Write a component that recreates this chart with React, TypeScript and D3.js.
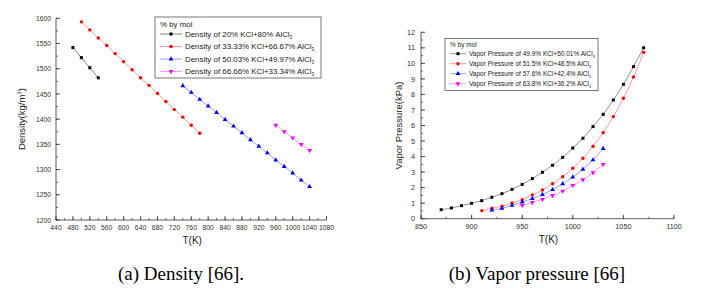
import * as d3 from 'd3';

// ---- (a) Density data ----
const dTemp20 = [480, 500, 520, 540];
const dens20 = [1542, 1522, 1502, 1482];
const dTemp33 = [500, 520, 540, 560, 580, 600, 620, 640, 660, 680, 700, 720, 740, 760, 780];
const dens33 = [1593, 1577, 1561, 1546, 1530, 1514, 1498, 1482, 1467, 1451, 1435, 1419, 1404, 1388, 1372];
const dTemp50 = [740, 760, 780, 800, 820, 840, 860, 880, 900, 920, 940, 960, 980, 1000, 1020, 1040];
const dens50 = [1466, 1453, 1439, 1426, 1413, 1399, 1386, 1373, 1359, 1346, 1333, 1319, 1306, 1293, 1279, 1266];
const dTemp66 = [960, 980, 1000, 1020, 1040];
const dens66 = [1388, 1375, 1363, 1350, 1338];
const densTicksX = [440, 480, 520, 560, 600, 640, 680, 720, 760, 800, 840, 880, 920, 960, 1000, 1040, 1080];
const densTicksY = [1200, 1250, 1300, 1350, 1400, 1450, 1500, 1550, 1600];

// ---- (b) Vapor pressure data ----
const vTemp499 = [870, 880, 890, 900, 910, 920, 930, 940, 950, 960, 970, 980, 990, 1000, 1010, 1020, 1030, 1040, 1050, 1060, 1070];
const vp499 = [0.58, 0.69, 0.84, 0.99, 1.16, 1.38, 1.61, 1.89, 2.21, 2.58, 2.99, 3.44, 3.95, 4.55, 5.18, 5.93, 6.72, 7.64, 8.65, 9.79, 11.0];
const vTemp515 = [910, 920, 930, 940, 950, 960, 970, 980, 990, 1000, 1010, 1020, 1030, 1040, 1050, 1060, 1070];
const vp515 = [0.52, 0.67, 0.8, 1.01, 1.22, 1.53, 1.85, 2.25, 2.7, 3.25, 3.89, 4.66, 5.54, 6.57, 7.75, 9.12, 10.71];
const vTemp576 = [920, 930, 940, 950, 960, 970, 980, 990, 1000, 1010, 1020, 1030];
const vp576 = [0.56, 0.67, 0.86, 1.07, 1.29, 1.55, 1.87, 2.25, 2.68, 3.18, 3.78, 4.51];
const vTemp638 = [950, 960, 970, 980, 990, 1000, 1010, 1020, 1030];
const vp638 = [0.86, 1.05, 1.25, 1.5, 1.78, 2.15, 2.51, 2.96, 3.5];
const vpTicksX = [850, 900, 950, 1000, 1050, 1100];
const vpTicksY = [0, 1, 2, 3, 4, 5, 6, 7, 8, 9, 10, 11, 12];

const FONT = '"Liberation Sans", Arial, sans-serif';
const SERIF = '"Liberation Serif", "Times New Roman", serif';
const AXIS = '#333';

type Series = {
  name: string;
  temps: number[];
  vals: number[];
  line: string;
  mark: string;
  shape: string;
};

const densitySeries: Series[] = [
  { name: 'Density of 20% KCl+80% AlCl', temps: dTemp20, vals: dens20, line: '#666', mark: '#000', shape: 'square' },
  { name: 'Density of 33.33% KCl+66.67% AlCl', temps: dTemp33, vals: dens33, line: '#ff8080', mark: '#ff0000', shape: 'circle' },
  { name: 'Density of 50.03% KCl+49.97% AlCl', temps: dTemp50, vals: dens50, line: '#8080ff', mark: '#0000ff', shape: 'up' },
  { name: 'Density of 66.66% KCl+33.34% AlCl', temps: dTemp66, vals: dens66, line: '#ff80ff', mark: '#ff00ff', shape: 'down' },
];

const vpSeries: Series[] = [
  { name: 'Vapor Pressure of 49.9% KCl+50.01% AlCl', temps: vTemp499, vals: vp499, line: '#777', mark: '#000', shape: 'square' },
  { name: 'Vapor Pressure of 51.5% KCl+48.5% AlCl', temps: vTemp515, vals: vp515, line: '#ff8080', mark: '#ff0000', shape: 'circle' },
  { name: 'Vapor Pressure of 57.6% KCl+42.4% AlCl', temps: vTemp576, vals: vp576, line: '#8080ff', mark: '#0000ff', shape: 'up' },
  { name: 'Vapor Pressure of 63.8% KCl+36.2% AlCl', temps: vTemp638, vals: vp638, line: '#ff80ff', mark: '#ff00ff', shape: 'down' },
];

function markerPath(shape: string) {
  if (shape === 'square') return d3.symbol(d3.symbolSquare, 9)() as string;
  if (shape === 'circle') return d3.symbol(d3.symbolCircle, 9)() as string;
  return d3.symbol(d3.symbolTriangle, 10)() as string;
}

function Marker({ x, y, s }: { x: number; y: number; s: Series }) {
  const rot = s.shape === 'down' ? ' rotate(180)' : '';
  return <path d={markerPath(s.shape)} transform={`translate(${x},${y})${rot}`} fill={s.mark} />;
}

type PanelProps = {
  series: Series[];
  x: d3.ScaleLinear<number, number>;
  y: d3.ScaleLinear<number, number>;
  ticksX: number[];
  ticksY: number[];
  minorX: number;
  minorY: number;
  tickFs: number;
  yLabel: React.ReactNode;
  smooth: boolean;
  legend: { x0: number; y0: number; w: number; h: number; fs: number; lx: number; lw: number; rows: number[]; titleY: number };
  labelGap: number;
  yLabelX: number;
};

function Panel(p: PanelProps) {
  const { x, y } = p;
  const [x0, x1] = x.range();
  const [yb, yt] = y.range();
  const minorXs = d3.range(x.domain()[0], x.domain()[1] + 0.001, p.minorX);
  const minorYs = d3.range(y.domain()[0], y.domain()[1] + 0.001, p.minorY);
  return (
    <g>
      {/* series */}
      {p.series.map((s) => {
        const gen = d3
          .line<number>()
          .x((_, i) => x(s.temps[i]))
          .y((v) => y(v))
          .curve(p.smooth ? d3.curveCatmullRom : d3.curveLinear);
        return (
          <g key={s.name}>
            <path d={gen(s.vals) as string} fill="none" stroke={s.line} strokeWidth={0.8} />
            {s.vals.map((v, i) => (
              <Marker key={i} x={x(s.temps[i])} y={y(v)} s={s} />
            ))}
          </g>
        );
      })}
      {/* axes */}
      <line x1={x0} x2={x1} y1={yb} y2={yb} stroke={AXIS} strokeWidth={0.8} />
      <line x1={x0} x2={x0} y1={yb} y2={yt} stroke={AXIS} strokeWidth={0.8} />
      {minorXs.map((t) => (
        <line key={'mx' + t} x1={x(t)} x2={x(t)} y1={yb} y2={yb - 2} stroke={AXIS} strokeWidth={0.7} />
      ))}
      {p.ticksX.map((t) => (
        <g key={'x' + t}>
          <line x1={x(t)} x2={x(t)} y1={yb} y2={yb - 4} stroke={AXIS} strokeWidth={0.8} />
          <text x={x(t)} y={yb + 10} textAnchor="middle" fontSize={p.tickFs} fill={AXIS} fontFamily={FONT}>
            {t}
          </text>
        </g>
      ))}
      {minorYs.map((t) => (
        <line key={'my' + t} x1={x0} x2={x0 + 2} y1={y(t)} y2={y(t)} stroke={AXIS} strokeWidth={0.7} />
      ))}
      {p.ticksY.map((t) => (
        <g key={'y' + t}>
          <line x1={x0} x2={x0 + 4} y1={y(t)} y2={y(t)} stroke={AXIS} strokeWidth={0.8} />
          <text x={x0 - p.labelGap} y={y(t) + 2.6} textAnchor="end" fontSize={p.tickFs} fill={AXIS} fontFamily={FONT}>
            {t}
          </text>
        </g>
      ))}
      <text x={(x0 + x1) / 2 + 1} y={yb + 24} textAnchor="middle" fontSize={10} fill="#222" fontFamily={FONT}>
        T(K)
      </text>
      <text
        transform={`translate(${p.yLabelX},${(yb + yt) / 2}) rotate(-90)`}
        textAnchor="middle"
        fontSize={9.5}
        fill="#222"
        fontFamily={FONT}
      >
        {p.yLabel}
      </text>
      {/* legend */}
      <rect x={p.legend.x0} y={p.legend.y0} width={p.legend.w} height={p.legend.h} fill="#fff" stroke="#555" strokeWidth={0.8} />
      <text x={p.legend.x0 + 5} y={p.legend.titleY} fontSize={p.legend.fs} fill="#222" fontFamily={FONT}>
        % by mol
      </text>
      {p.series.map((s, i) => {
        const ry = p.legend.rows[i];
        const lx = p.legend.lx;
        return (
          <g key={'lg' + i}>
            <line x1={lx} x2={lx + p.legend.lw} y1={ry} y2={ry} stroke={s.line} strokeWidth={0.8} />
            <Marker x={lx + p.legend.lw / 2} y={ry} s={s} />
            <text x={lx + p.legend.lw + 3} y={ry + p.legend.fs * 0.36} fontSize={p.legend.fs} fill="#222" fontFamily={FONT}>
              {s.name}
              <tspan fontSize={p.legend.fs * 0.6} dy={2}>
                3
              </tspan>
            </text>
          </g>
        );
      })}
    </g>
  );
}

export default function App() {
  const xD = d3.scaleLinear().domain([440, 1080]).range([56, 326.5]);
  const yD = d3.scaleLinear().domain([1200, 1600]).range([220, 18.3]);
  const xV = d3.scaleLinear().domain([850, 1100]).range([421, 674]);
  const yV = d3.scaleLinear().domain([0, 12]).range([218.7, 32.3]);

  return (
    <svg width={720} height={302} style={{ position: 'absolute', left: 0, top: 0, background: '#fff' }}>
      <Panel
        series={densitySeries}
        x={xD}
        y={yD}
        ticksX={densTicksX}
        ticksY={densTicksY}
        minorX={20}
        minorY={25}
        tickFs={6.8}
        yLabel={
          <>
            Density(kg/m
            <tspan fontSize={6} dy={-4}>
              3
            </tspan>
            <tspan dy={4}>)</tspan>
          </>
        }
        smooth={false}
        legend={{ x0: 155, y0: 17, w: 166, h: 61, fs: 7.9, lx: 160, lw: 22, rows: [34, 46.5, 59, 71.5], titleY: 27 }}
        labelGap={5}
        yLabelX={25}
      />
      <Panel
        series={vpSeries}
        x={xV}
        y={yV}
        ticksX={vpTicksX}
        ticksY={vpTicksY}
        minorX={25}
        minorY={0.5}
        tickFs={7.3}
        yLabel="Vapor Pressure(kPa)"
        smooth={true}
        legend={{ x0: 445, y0: 38.5, w: 153, h: 52, fs: 6.5, lx: 450, lw: 16, rows: [53.7, 63.7, 73.7, 83.7], titleY: 47 }}
        labelGap={6}
        yLabelX={402}
      />
      <text x={181} y={280} textAnchor="middle" fontSize={19} fontFamily={SERIF} fill="#000">
        (a) Density [66].
      </text>
      <text x={537} y={280} textAnchor="middle" fontSize={19} fontFamily={SERIF} fill="#000">
        (b) Vapor pressure [66]
      </text>
    </svg>
  );
}
